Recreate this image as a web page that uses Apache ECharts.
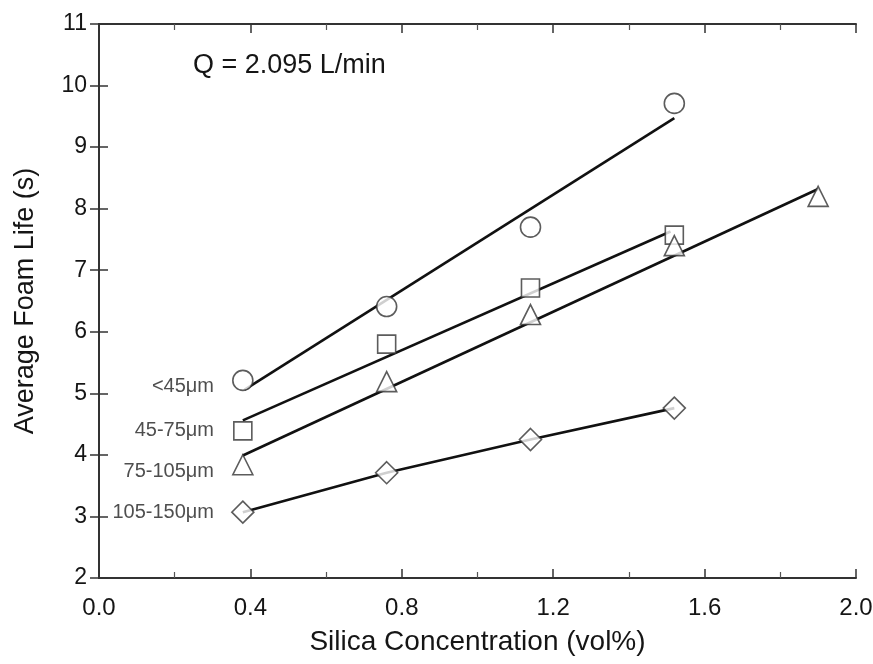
<!DOCTYPE html>
<html>
<head>
<meta charset="utf-8">
<script src="https://cdn.jsdelivr.net/npm/echarts@6/dist/echarts.min.js"></script>
<style>
  html, body { margin: 0; padding: 0; background: #fff; }
  #chart { width: 873px; height: 664px; }
</style>
</head>
<body>
<div id="chart"></div>
<script>
// 粒径分组标签
const sizeLabels = ['<45μm', '45-75μm', '75-105μm', '105-150μm'];

// 实测点 (x = 浓度 vol%, y = 平均泡沫寿命 s)
const circlePts = [[0.38, 5.21], [0.76, 6.41], [1.14, 7.70], [1.52, 9.71]];
const squarePts = [[0.38, 4.39], [0.76, 5.80], [1.14, 6.71], [1.52, 7.57]];
const trianglePts = [[0.38, 3.84], [0.76, 5.19], [1.14, 6.28], [1.52, 7.40], [1.90, 8.20]];
const diamondPts = [[0.38, 3.07], [0.76, 3.71], [1.14, 4.25], [1.52, 4.76]];

// 拟合直线两端
const circleFit = [[0.385, 5.06], [1.52, 9.47]];
const squareFit = [[0.38, 4.56], [1.51, 7.63]];
const triangleFit = [[0.38, 3.99], [1.90, 8.32]];

const xTicks = [0, 0.4, 0.8, 1.2, 1.6, 2.0];
const yTicks = [2, 3, 4, 5, 6, 7, 8, 9, 10, 11];

const ink = '#151515';
const font = 'Liberation Sans, Arial, sans-serif';

var chart = echarts.init(document.getElementById('chart'));

// 散点系列，第一个点带左侧文字标签
function markerSeries(name, pts, symbol, size, labelOffset) {
    return {
        name: name,
        type: 'scatter',
        data: pts.map((p, i) => {
            const item = { value: p };
            if (i === 0) {
                item.label = {
                    show: true,
                    position: 'left',
                    distance: 28 - size / 2,
                    offset: [0, labelOffset],
                    formatter: name,
                    color: '#222',
                    fontSize: 20,
                    fontFamily: font
                };
            }
            return item;
        }),
        symbol: symbol,
        symbolSize: size,
        itemStyle: { color: '#fff', borderColor: '#333', borderWidth: 1.6 },
        z: 5
    };
}

function fitSeries(pts) {
    return {
        type: 'line',
        data: pts,
        symbol: 'none',
        lineStyle: { color: '#111', width: 2.6 },
        z: 3
    };
}

const tickStyle = { show: true, inside: true, length: 9, lineStyle: { color: '#333', width: 1.5 } };
const minorStyle = { show: true, splitNumber: 2, length: 6, lineStyle: { color: '#555', width: 1.2 } };
const lineStyle = { show: true, lineStyle: { color: '#333', width: 2 } };

var option = {
    animation: false,
    backgroundColor: '#fff',
    grid: { left: 99, right: 17, top: 24, bottom: 86, containLabel: false, outerBoundsMode: 'none' },
    xAxis: [
        {
            type: 'value', min: xTicks[0], max: xTicks[xTicks.length - 1], interval: 0.4,
            name: 'Silica Concentration (vol%)', nameLocation: 'middle', nameGap: 50,
            nameTextStyle: { color: ink, fontSize: 28, fontFamily: font },
            axisLine: lineStyle,
            axisTick: tickStyle,
            minorTick: minorStyle,
            axisLabel: { color: ink, fontSize: 24, fontFamily: font, margin: 18,
                formatter: v => v.toFixed(1) },
            splitLine: { show: false }
        },
        {
            type: 'value', position: 'top', min: 0, max: 2, interval: 0.4,
            axisLine: lineStyle,
            axisTick: tickStyle,
            minorTick: minorStyle,
            axisLabel: { show: false },
            splitLine: { show: false }
        }
    ],
    yAxis: [
        {
            type: 'value', min: yTicks[0], max: yTicks[yTicks.length - 1], interval: 1,
            name: 'Average Foam Life (s)', nameLocation: 'middle', nameGap: 60,
            nameTextStyle: { color: ink, fontSize: 27, fontFamily: font },
            axisLine: lineStyle,
            axisTick: tickStyle,
            axisLabel: { color: ink, fontSize: 23, fontFamily: font, margin: 12 },
            splitLine: { show: false }
        },
        {
            type: 'value', position: 'right', min: 2, max: 11, interval: 1,
            axisLine: lineStyle,
            axisTick: tickStyle,
            axisLabel: { show: false },
            splitLine: { show: false }
        }
    ],
    graphic: [
        {
            type: 'text', left: 193, top: 52,
            style: { text: 'Q = 2.095 L/min', fill: ink, fontSize: 27, fontFamily: font }
        }
    ],
    series: [
        fitSeries(circleFit),
        fitSeries(squareFit),
        fitSeries(triangleFit),
        {
            type: 'line',
            data: diamondPts,
            symbol: 'none',
            lineStyle: { color: '#111', width: 2.6 },
            z: 3
        },
        markerSeries(sizeLabels[0], circlePts, 'circle', 20, 6),
        markerSeries(sizeLabels[1], squarePts, 'rect', 18, 0),
        markerSeries(sizeLabels[2], trianglePts, 'triangle', 20, 7),
        markerSeries(sizeLabels[3], diamondPts, 'diamond', 22, 0)
    ]
};

chart.setOption(option);
</script>
</body>
</html>
